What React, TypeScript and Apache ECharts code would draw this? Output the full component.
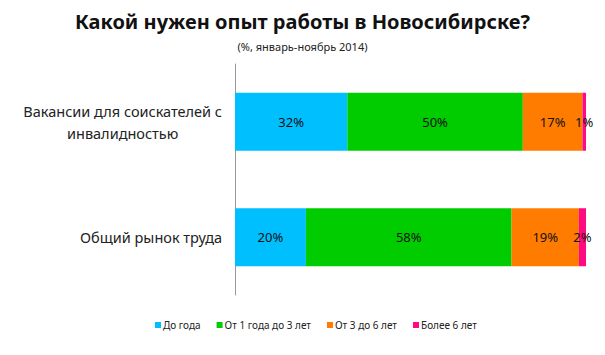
import React, { useEffect, useRef } from "react";
import * as echarts from "echarts";

const categories = ["Вакансии для соискателей с\nинвалидностью", "Общий рынок труда"];
const seriesNames = ["До года", "От 1 года до 3 лет", "От 3 до 6 лет", "Более 6 лет"];
const upToYear = [32, 20];
const oneToThree = [50, 58];
const threeToSix = [17, 19];
const overSix = [1, 2];
const colors = ["#00BFFF", "#00CC00", "#FF7C00", "#FF0A80"];

const FONT = "Noto Sans";

export default function App() {
  const ref = useRef<HTMLDivElement>(null);
  useEffect(() => {
    document.body.style.margin = "0";
    if (!ref.current) return;
    const chart = echarts.init(ref.current, undefined, { renderer: "svg" });
    const raw = [upToYear, oneToThree, threeToSix, overSix];
    const totals = categories.map((_, i) => raw.reduce((s, arr) => s + arr[i], 0));
    const series = raw.map((arr, k) => ({
      name: seriesNames[k],
      type: "bar",
      stack: "total",
      barWidth: 58,
      itemStyle: { color: colors[k] },
      label: {
        show: true,
        position: "inside",
        color: "#111",
        fontFamily: FONT,
        fontSize: 13,
        formatter: (p: any) => `${arr[p.dataIndex]}%`,
      },
      data: arr.map((v, i) => (v / totals[i]) * 100),
    }));
    chart.setOption({
      animation: false,
      title: [
        {
          text: "Какой нужен опыт работы в Новосибирске?",
          left: "center",
          top: 6,
          textStyle: { fontFamily: FONT, fontSize: 20, fontWeight: "bold", color: "#111" },
        },
        {
          text: "(%, январь-ноябрь 2014)",
          left: "center",
          top: 36,
          textStyle: { fontFamily: FONT, fontSize: 11, fontWeight: "normal", color: "#222" },
        },
      ],
      legend: {
        bottom: 20,
        left: 150,
        itemWidth: 6,
        itemHeight: 6,
        itemGap: 16,
        icon: "rect",
        textStyle: { fontFamily: FONT, fontSize: 10, color: "#222", padding: [0, 0, 0, -3] },
        data: seriesNames,
      },
      grid: { left: 235, right: 19, top: 64, bottom: 60 },
      xAxis: {
        type: "value",
        min: 0,
        max: 100,
        show: false,
      },
      yAxis: {
        type: "category",
        inverse: true,
        data: categories,
        axisLine: { show: true, lineStyle: { color: "#999" } },
        axisTick: { show: false },
        axisLabel: {
          margin: 13,
          fontFamily: FONT,
          fontSize: 14.5,
          color: "#222",
          lineHeight: 22,
          formatter: (v: string) => `{c|${v}}`,
          rich: { c: { align: "center", fontFamily: FONT, fontSize: 14.5, color: "#222", lineHeight: 22 } },
        },
      },
      series,
    });
    return () => chart.dispose();
  }, []);
  return <div ref={ref} style={{ width: 605, height: 355 }} />;
}
